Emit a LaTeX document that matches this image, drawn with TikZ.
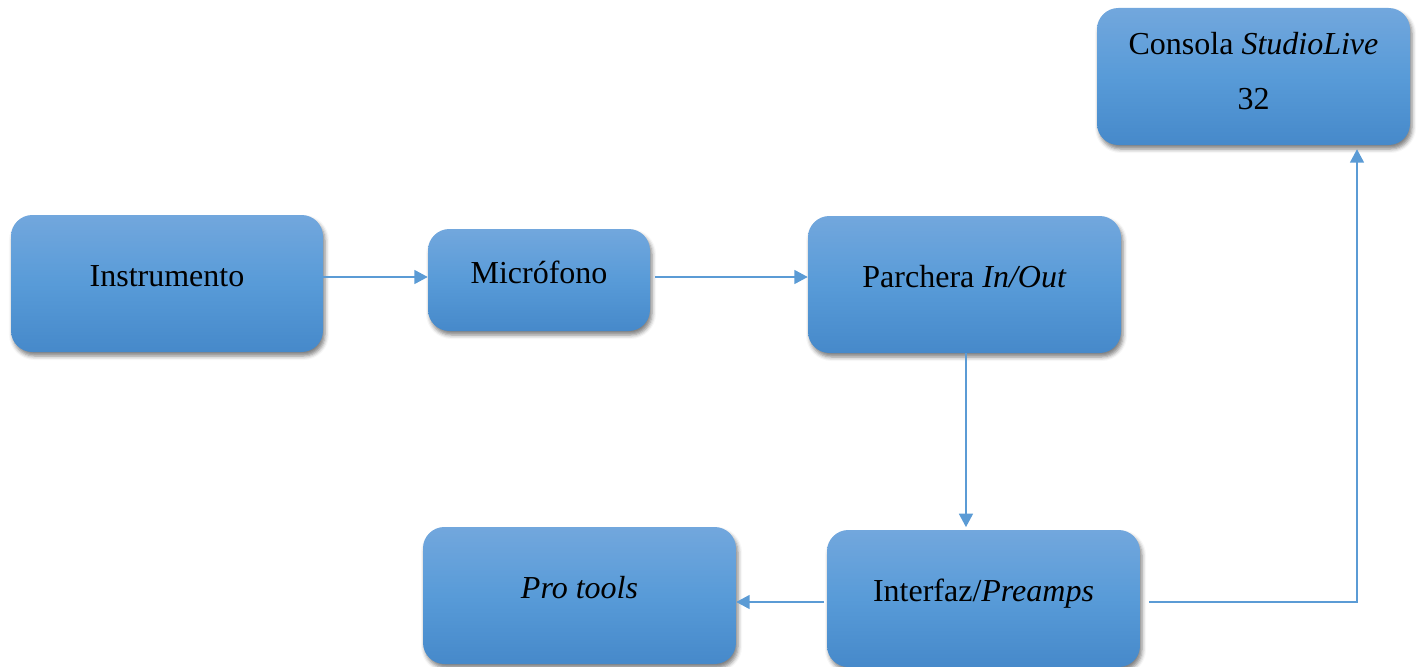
\documentclass[tikz,border=0pt]{standalone}
\usepackage{fontspec}
\setmainfont{Liberation Serif}
\usetikzlibrary{arrows.meta,shadows.blur,calc}
\definecolor{lineblue}{RGB}{91,155,213}
\definecolor{boxtop}{RGB}{114,167,221}
\definecolor{boxmid}{RGB}{88,155,216}
\definecolor{boxbot}{RGB}{70,137,202}
\tikzset{
  box/.style={rectangle, rounded corners=16pt, top color=boxtop, bottom color=boxbot, middle color=boxmid,
    draw=none, inner sep=0pt, font=\fontsize{24}{29}\selectfont, text height=16pt, text depth=11.5pt,
    blur shadow={shadow xshift=1.5pt, shadow yshift=-3pt, shadow blur radius=3pt, shadow opacity=50}},
  conn/.style={draw=lineblue, line width=1pt, -{Triangle[length=10pt,width=10.5pt]}},
}
\begin{document}
\begin{tikzpicture}[x=0.75pt,y=-0.75pt]
\useasboundingbox (0,0) rectangle (1418,667);
\node[box, minimum width=234pt, minimum height=102.75pt] (instr) at (167,283.5) {Instrumento};
\node[box, minimum width=166.5pt, minimum height=76.5pt] (mic) at (539,280) {Micrófono};
\node[box, minimum width=234.75pt, minimum height=102.75pt] (parch) at (964.5,284.5) {Parchera \textit{In/Out}};
\node[box, minimum width=234.75pt, minimum height=102.75pt, align=center,
      font=\fontsize{24}{41.25}\selectfont, text height=57.5pt, text depth=7.5pt] (cons) at (1253.5,76.5) {Consola \textit{StudioLive}\\32};
\node[box, minimum width=234.75pt, minimum height=102.75pt] (pro) at (579.5,595.5) {\textit{Pro tools}};
\node[box, minimum width=234.75pt, minimum height=102.75pt] (interf) at (983.5,598.5) {Interfaz/\textit{Preamps}};
\coordinate (row) at (0,277);
\coordinate (low) at (0,602);
\coordinate (up) at (1357,0);
\draw[conn] (instr.east |- row) -- (mic.west |- row);
\draw[conn, shorten <=3.75pt] (mic.east |- row) -- (parch.west |- row);
\draw[conn, shorten >=2pt] ([xshift=1.1pt]parch.south) -- ([xshift=1.1pt]parch.south |- interf.north);
\draw[conn, shorten <=2pt] (interf.west |- low) -- (pro.east |- low);
\draw[conn, shorten <=6.75pt, shorten >=3pt] (interf.east |- low) -| (cons.south -| up);
\end{tikzpicture}
\end{document}
